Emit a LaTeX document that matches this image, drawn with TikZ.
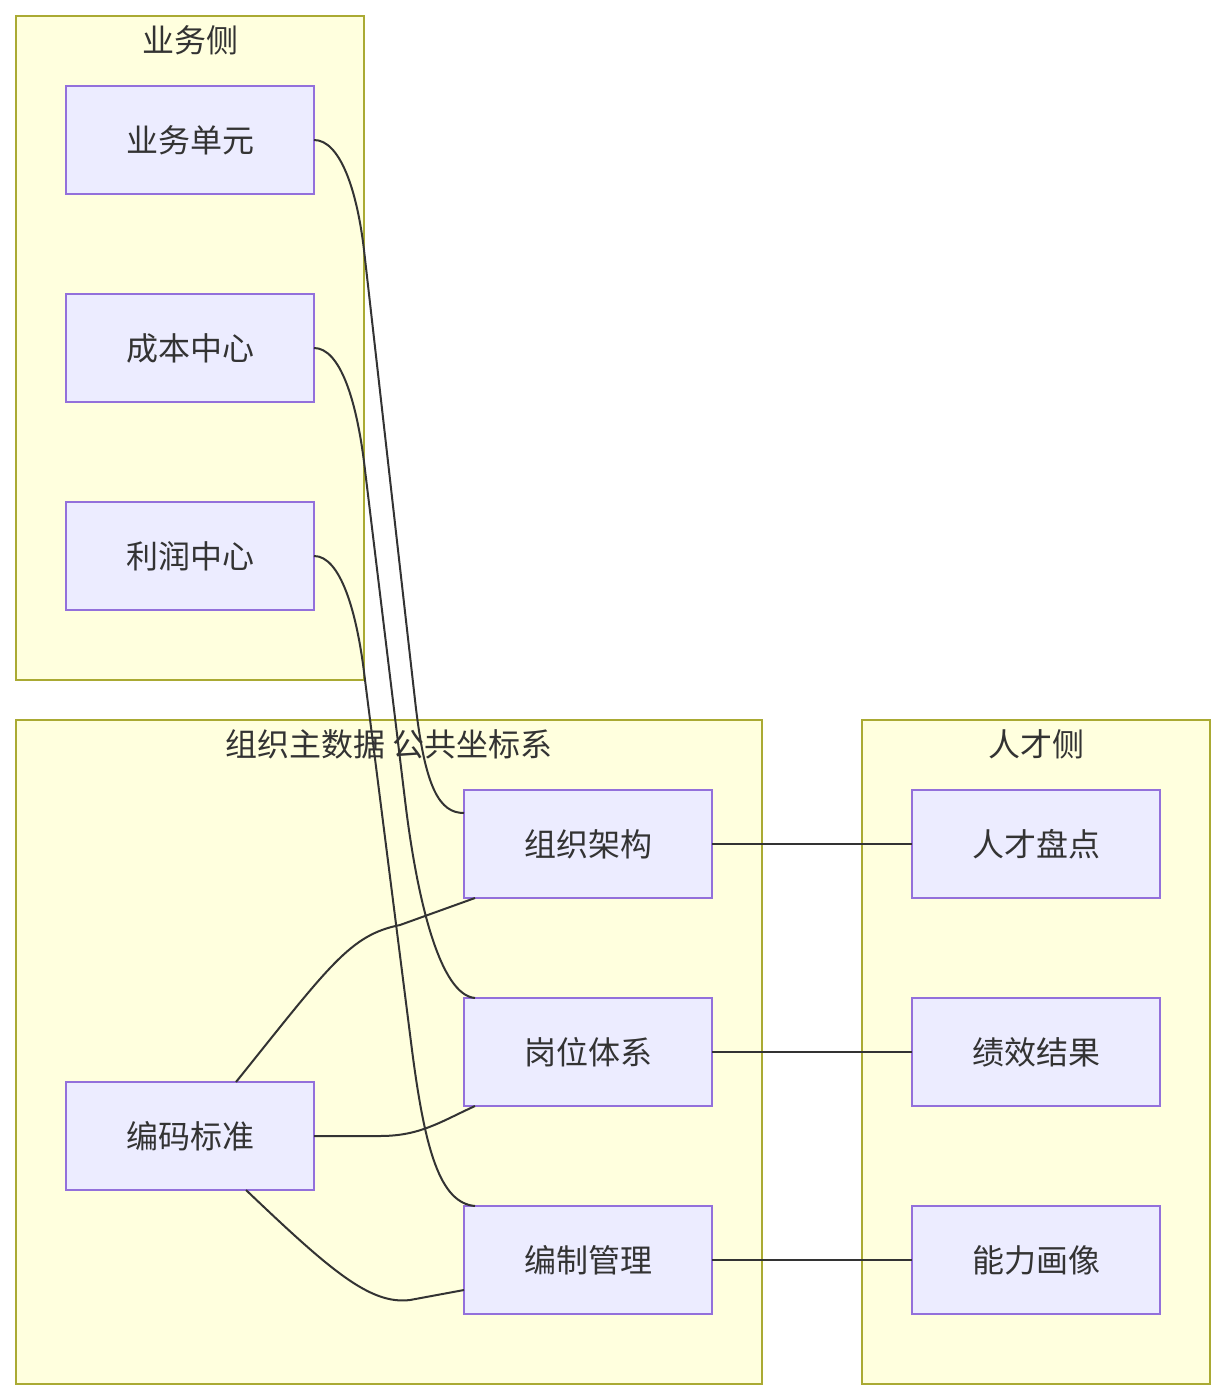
\documentclass[tikz,border=0pt]{standalone}
\usepackage{fontspec}
\setmainfont{Noto Sans CJK SC}
\usetikzlibrary{positioning, calc}
\definecolor{nodefill}{HTML}{ECECFF}
\definecolor{nodeline}{HTML}{9370DB}
\definecolor{grpfill}{HTML}{FFFFDE}
\definecolor{grpline}{HTML}{AAAA33}
\definecolor{txt}{HTML}{333333}

\begin{document}
\begin{tikzpicture}[
    x=0.5pt, y=-0.5pt, node distance=50pt,
    box/.style={draw=nodeline, fill=nodefill, line width=1pt,
        minimum width=124pt, minimum height=54pt, inner sep=0pt,
        outer sep=0pt, text=txt, font=\fontsize{16}{19}\selectfont},
    grp/.style={draw=grpline, fill=grpfill, line width=1pt},
    grptitle/.style={text=txt, font=\fontsize{16}{19}\selectfont},
    link/.style={draw=txt, line width=1pt}
  ]
  \useasboundingbox (0,0) rectangle (1226,1400);

  % groups
  \draw[grp] (16,16) rectangle (364,680);
  \node[grptitle] (ywc) at (190,40) {业务侧};
  \draw[grp] (16,720) rectangle (762,1384);
  \node[grptitle] (zzzsj) at (389,744) {组织主数据 公共坐标系};
  \draw[grp] (862,720) rectangle (1210,1384);
  \node[grptitle] (rcc) at (1036,744) {人才侧};

  % business side
  \node[box] (ywdy) at (190,140) {业务单元};
  \node[box, below=of ywdy] (cbzx) {成本中心};
  \node[box, below=of cbzx] (lrzx) {利润中心};

  % org master data
  \node[box] (zzjg) at (588,844) {组织架构};
  \node[box, below=of zzjg] (gwtx) {岗位体系};
  \node[box, below=of gwtx] (bzgl) {编制管理};
  \node[box] (bmbz) at (190,1136) {编码标准};

  % talent side
  \node[box, right=100pt of zzjg] (rcpd) {人才盘点};
  \node[box, right=100pt of gwtx] (jxjg) {绩效结果};
  \node[box, right=100pt of bzgl] (nlhx) {能力画像};

  % links
  \draw[link] (ywdy.east) .. controls (340,140) and (357,190) .. (364,250)
    -- (415,700) .. controls (425,790) and (440,813) .. ($(zzjg.north west)+(0,23)$);
  \draw[link] (cbzx.east) .. controls (340,348) and (357,400) .. (365,470)
    -- (405,800) .. controls (417,900) and (440,995) .. ($(gwtx.north west)+(11,0)$);
  \draw[link] (lrzx.east) .. controls (340,556) and (357,610) .. (365,680)
    -- (412,1050) .. controls (425,1150) and (440,1203) .. ($(bzgl.north west)+(11,0)$);
  \draw[link] ($(bmbz.north)+(46,0)$) .. controls (330,965) and (350,935) .. (400,925)
    -- ($(zzjg.south west)+(11,0)$);
  \draw[link] (bmbz.east) -- (380,1136) .. controls (420,1136) and (440,1122) .. ($(gwtx.south west)+(11,0)$);
  \draw[link] ($(bmbz.south)+(56,0)$) .. controls (330,1270) and (370,1305) .. (410,1300)
    -- ($(bzgl.south west)+(0,-24)$);
  \draw[link] (zzjg) -- (rcpd);
  \draw[link] (gwtx) -- (jxjg);
  \draw[link] (bzgl) -- (nlhx);
\end{tikzpicture}
\end{document}
